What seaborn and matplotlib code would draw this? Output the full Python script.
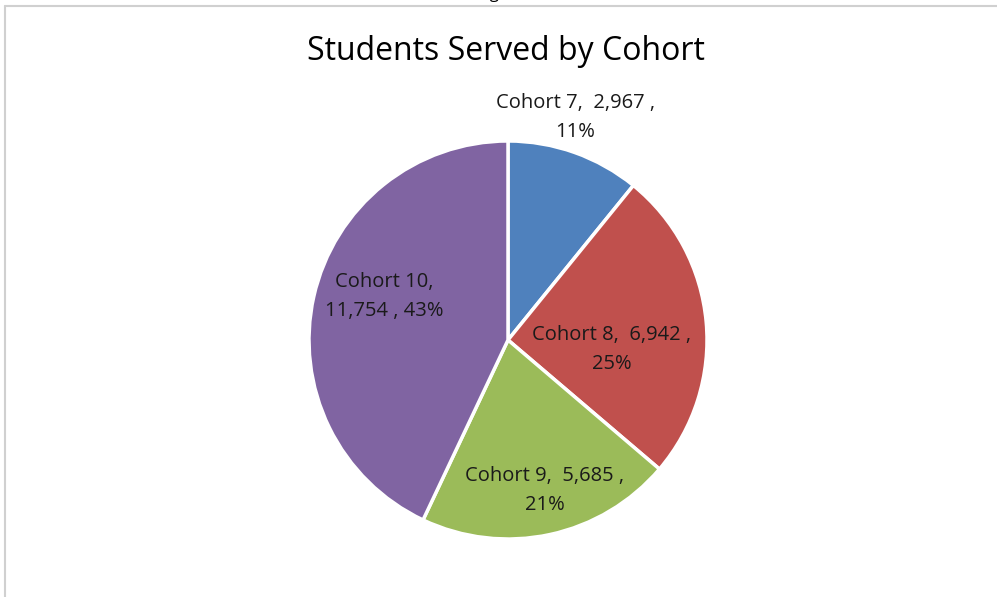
import matplotlib
matplotlib.use("Agg")
import matplotlib.pyplot as plt
import seaborn as sns
import numpy as np

categories = ["Cohort 7", "Cohort 8", "Cohort 9", "Cohort 10"]
values = [2967, 6942, 5685, 11754]
colors = ["#4F81BD", "#C0504D", "#9BBB59", "#8064A2"]

sns.set_theme(style="white")
plt.rcParams['font.family'] = ['Open Sans', 'DejaVu Sans']

fig = plt.figure(figsize=(9.97, 5.97), dpi=100)
ax = fig.add_axes([308/997, (597-540)/597, 400/997, 400/597])

wedges, _ = ax.pie(values, colors=colors, startangle=90, counterclock=False,
                   wedgeprops=dict(edgecolor="white", linewidth=2.5))
ax.set_xlim(-1.005, 1.005)
ax.set_ylim(-1.005, 1.005)
ax.set_aspect("equal")

total = sum(values)
pcts = [round(v / total * 100) for v in values]
texts = [
    f"{categories[0]},  {values[0]:,} ,\n{pcts[0]}%",
    f"{categories[1]},  {values[1]:,} ,\n{pcts[1]}%",
    f"{categories[2]},  {values[2]:,} ,\n{pcts[2]}%",
    f"{categories[3]},\n{values[3]:,} , {pcts[3]}%",
]
label_pos = [(0.337, 1.12), (0.52, -0.05), (0.186, -0.754), (-0.62, 0.22)]
for t, (x, y) in zip(texts, label_pos):
    ax.text(x, y, t, ha="center", va="center", fontsize=14.5, color="#1a1a1a",
            linespacing=1.6, clip_on=False)

fig.text(506/997, 1 - 51/597, "Students Served by Cohort", ha="center", va="center",
         fontsize=23, color="black")
fig.text(508/997, 1 + 6/597, "Figure 6", ha="center", va="center", fontsize=12, color="black")

# frame lines
fig.add_artist(plt.Line2D([5/997, 5/997], [0, 1 - 6/597], transform=fig.transFigure,
                          color="#d0d0d0", linewidth=1.5))
fig.add_artist(plt.Line2D([5/997, 1], [1 - 6/597, 1 - 6/597], transform=fig.transFigure,
                          color="#d0d0d0", linewidth=1.5))

fig.savefig("out.png", dpi=100, facecolor="white")
